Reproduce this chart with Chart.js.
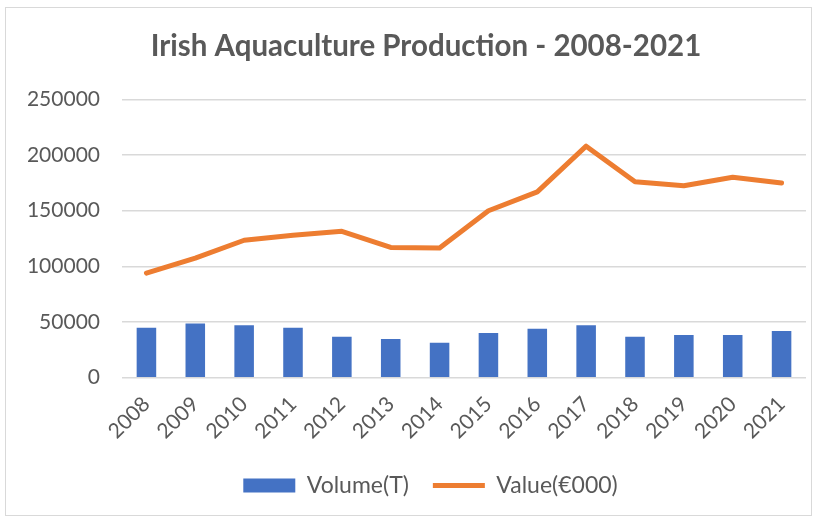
<!DOCTYPE html>
<html>
<head>
<meta charset="utf-8">
<script src="https://cdn.jsdelivr.net/npm/chart.js@4.4.1/dist/chart.umd.min.js"></script>
<style>
  html, body { margin: 0; padding: 0; background: #fff; }
  canvas { display: block; }
</style>
</head>
<body>
<canvas id="chart" width="825" height="522"></canvas>
<script>
const years = ['2008','2009','2010','2011','2012','2013','2014','2015','2016','2017','2018','2019','2020','2021'];
const volume = [45000, 48700, 47100, 44800, 36700, 34800, 31500, 40200, 43900, 47100, 36900, 38400, 38400, 42000];
const value = [94000, 107500, 123500, 128000, 131500, 117000, 116500, 150000, 167000, 208000, 176000, 172500, 180000, 175000];

const textColor = '#595959';
const fontFamily = 'Lato, "Open Sans", sans-serif';

// white background + thin grey frame like the Excel chart area,
// and nudge title/legend so they centre the way the original does
const frame = {
    id: 'frame',
    afterLayout(chart) {
        chart.titleBlock.left = 46;
        chart.legend.left = 55;
    },
    beforeDraw(chart) {
        const ctx = chart.ctx;
        ctx.save();
        ctx.fillStyle = '#fff';
        ctx.fillRect(0, 0, chart.width, chart.height);
        ctx.strokeStyle = '#d9d9d9';
        ctx.lineWidth = 1;
        ctx.strokeRect(5.5, 7.5, 806, 508);
        ctx.restore();
    }
};

new Chart(document.getElementById('chart'), {
    data: {
        labels: years,
        datasets: [
            {
                type: 'line',
                label: 'Value(€000)',
                data: value,
                borderColor: '#ED7D31',
                backgroundColor: '#ED7D31',
                borderWidth: 5,
                borderCapStyle: 'round',
                borderJoinStyle: 'round',
                pointRadius: 0,
                pointStyle: 'line',
                tension: 0,
                order: 1
            },
            {
                type: 'bar',
                label: 'Volume(T)',
                data: volume,
                backgroundColor: '#4472C4',
                pointStyle: 'rect',
                barPercentage: 0.4,
                categoryPercentage: 1,
                order: 2
            }
        ]
    },
    plugins: [frame],
    options: {
        responsive: false,
        animation: false,
        layout: { padding: { left: 14, right: 19, top: 10, bottom: 15 } },
        plugins: {
            title: {
                display: true,
                text: 'Irish Aquaculture Production - 2008-2021',
                color: textColor,
                font: { family: fontFamily, size: 29.5, weight: 'bold' },
                padding: { top: 19, bottom: 35 }
            },
            legend: {
                position: 'bottom',
                reverse: true,
                labels: {
                    color: textColor,
                    font: { family: fontFamily, size: 23 },
                    usePointStyle: true,
                    pointStyleWidth: 52,
                    boxHeight: 14,
                    padding: 24
                }
            },
            tooltip: { enabled: false }
        },
        scales: {
            x: {
                grid: { display: false },
                border: { display: false },
                afterFit: s => { s.paddingLeft = 0; },
                ticks: {
                    color: textColor,
                    font: { family: fontFamily, size: 21 },
                    maxRotation: 45,
                    minRotation: 45,
                    padding: 6
                }
            },
            y: {
                min: 0,
                max: 250000,
                grid: { color: '#d9d9d9', lineWidth: 1.5, drawTicks: false },
                border: { display: false },
                afterFit: s => { s.width = 108; },
                ticks: {
                    stepSize: 50000,
                    color: textColor,
                    font: { family: fontFamily, size: 21 },
                    padding: 22,
                    callback: v => String(v)
                }
            }
        }
    }
});
</script>
</body>
</html>
